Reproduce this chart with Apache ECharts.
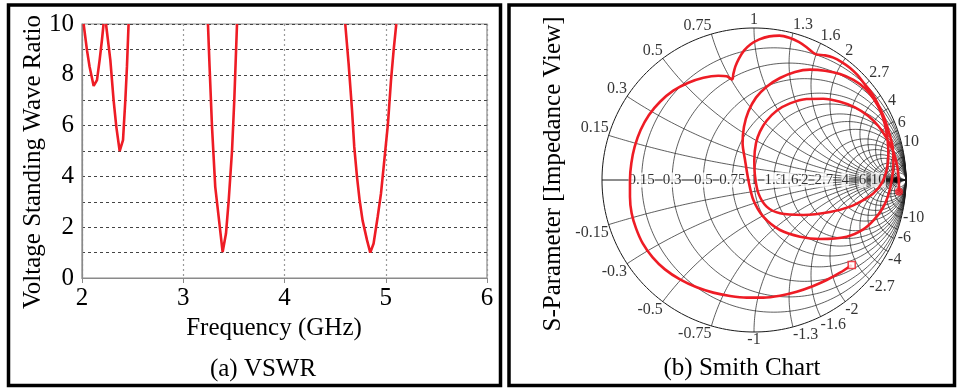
<!DOCTYPE html>
<html><head><meta charset="utf-8">
<script src="https://cdn.jsdelivr.net/npm/echarts@6/dist/echarts.min.js"></script>
<style>html,body{margin:0;padding:0;background:#fff}#c{width:957px;height:389px}</style>
</head><body><div id="c"></div>
<script>
// ---- VSWR data (frequency in GHz, VSWR) ; null separates visible segments ----
const vswrFreq = [2.016, 2.049, 2.075, 2.115, 2.148, 2.174, 2.197, 2.213, null,
  2.237, 2.28, 2.312, 2.339, 2.372, 2.405, 2.428, 2.444, 2.46, null,
  3.244, 3.26, 3.284, 3.316, 3.35, 3.389, 3.422, 3.449, 3.482, 3.504, 3.531, null,
  4.60, 4.633, 4.667, 4.689, 4.716, 4.742, 4.771, 4.815, 4.847, 4.88, 4.92, 4.953, 4.986, 5.022, 5.052, 5.078, 5.104];
const vswrValue = [10, 8.97, 8.32, 7.56, 7.79, 8.58, 9.37, 10, null,
  10, 8.58, 7.0, 5.95, 5.0, 5.43, 7.0, 8.32, 10, null,
  10, 8.32, 5.96, 3.59, 2.4, 1.02, 1.75, 3.06, 5.03, 7.0, 10, null,
  10, 8.45, 6.61, 5.16, 3.98, 3.06, 2.27, 1.49, 1.0, 1.36, 2.4, 3.33, 4.64, 6.09, 7.79, 8.97, 10];
const yTickLabels = [0, 2, 4, 6, 8, 10];
const xTickLabels = [2, 3, 4, 5, 6];

// ---- Smith chart grid values ----
const smithR = [0.15, 0.3, 0.5, 0.75, 1, 1.3, 1.6, 2, 2.7, 4, 6, 10];
const smithRExtra = [3.3, 5, 8, 13, 20];
const smithX = [0.15, 0.3, 0.5, 0.75, 1, 1.3, 1.6, 2, 2.7, 4, 6, 10];
const smithXExtra = [3.3, 5, 8, 13, 20];

// ---- S11 trajectory (reflection coefficient, real / imaginary) ----
const s11Re = [0.643,0.566,0.478,0.390,0.281,0.171,0.061,-0.048,-0.158,-0.268,-0.377,-0.487,-0.586,-0.667,-0.732,-0.776,-0.805,-0.816,-0.816,-0.807,-0.785,-0.746,-0.691,-0.618,-0.531,-0.432,-0.333,-0.235,-0.180,-0.143,-0.136,-0.123,-0.101,-0.066,-0.022,0.035,0.101,0.167,0.232,0.294,0.346,0.386,0.412,0.467,0.522,0.577,0.632,0.680,0.724,0.763,0.796,0.829,0.862,0.890,0.912,
  0.917,0.906,0.884,0.846,0.789,0.719,0.610,0.434,0.303,0.171,0.061,-0.004,-0.037,-0.059,-0.075,-0.066,-0.037,0.013,0.083,0.171,0.270,0.368,0.467,0.566,0.654,0.730,0.789,0.833,0.862,0.879,0.884,
  0.873,0.840,0.785,0.719,0.632,0.500,0.325,0.171,0.083,0.029,0.007,0.002,0.013,0.039,0.083,0.149,0.237,0.346,0.456,0.566,0.664,0.752,0.818,0.873,0.917,0.943,0.952,0.954];
const s11Im = [-0.559,-0.610,-0.658,-0.697,-0.735,-0.761,-0.774,-0.774,-0.763,-0.741,-0.706,-0.654,-0.588,-0.509,-0.417,-0.318,-0.219,-0.110,0,0.110,0.219,0.329,0.428,0.515,0.588,0.640,0.673,0.686,0.682,0.662,0.697,0.746,0.796,0.851,0.893,0.925,0.945,0.950,0.936,0.908,0.873,0.840,0.825,0.820,0.805,0.776,0.737,0.691,0.636,0.588,0.537,0.471,0.395,0.307,0.219,
  0.110,0,-0.099,-0.186,-0.263,-0.325,-0.373,-0.388,-0.373,-0.329,-0.241,-0.132,0,0.132,0.241,0.351,0.450,0.542,0.614,0.671,0.711,0.726,0.719,0.697,0.658,0.603,0.531,0.450,0.362,0.263,0.164,
  0.066,-0.022,-0.088,-0.132,-0.175,-0.211,-0.230,-0.219,-0.175,-0.088,0.022,0.132,0.241,0.318,0.390,0.456,0.504,0.533,0.535,0.515,0.478,0.421,0.355,0.274,0.186,0.088,0,-0.077];

const FONT = 'Liberation Serif';
const RED = '#ee1c25';
const series = [];

// VSWR segments
let seg = [];
const segs = [];
vswrFreq.forEach((f, i) => {
  if (f === null) { segs.push(seg); seg = []; }
  else seg.push([f, vswrValue[i]]);
});
segs.push(seg);
segs.forEach(s => series.push({
  type: 'line', xAxisIndex: 0, yAxisIndex: 0, data: s, symbol: 'none', smooth: false,
  lineStyle: { color: RED, width: 2.6 }, z: 5, silent: true
}));

// Smith grid helpers
function rCircle(r) {
  const cx = r / (1 + r), R = 1 / (1 + r), pts = [];
  for (let k = 0; k <= 240; k++) { const a = 2 * Math.PI * k / 240; pts.push([cx + R * Math.cos(a), R * Math.sin(a)]); }
  return pts;
}
function xArc(x) {
  const pts = [], N = 200;
  for (let k = 0; k < N; k++) {
    const t = Math.tan(k / N * Math.PI / 2);
    const d = (t + 1) * (t + 1) + x * x;
    pts.push([(t * t + x * x - 1) / d, 2 * x / d]);
  }
  pts.push([1, 0]);
  return pts;
}
const gridStyle = { color: '#1a1a1a', width: 0.7 };
function addGrid(pts, w) {
  series.push({ type: 'line', xAxisIndex: 1, yAxisIndex: 1, data: pts, symbol: 'none',
    lineStyle: Object.assign({}, gridStyle, w ? { width: w } : {}), z: 1, silent: true, clip: false });
}
addGrid(rCircle(0), 1.0);
smithR.concat(smithRExtra).forEach(r => addGrid(rCircle(r)));
smithX.concat(smithXExtra).forEach(x => { addGrid(xArc(x)); addGrid(xArc(-x)); });
addGrid([[-1, 0], [1.015, 0]], 1.0);

// Reactance labels around rim
const rimLabels = [];
smithX.forEach(x => {
  [x, -x].forEach(v => {
    const d = 1 + v * v, gx = (v * v - 1) / d, gy = 2 * v / d;
    const align = Math.abs(gx) < 0.05 ? 'center' : (gx > 0 ? 'left' : 'right');
    rimLabels.push({ value: [gx, gy], label: { formatter: String(v), align: align, verticalAlign: v > 0 ? 'bottom' : 'top' } });
  });
});
series.push({ type: 'scatter', xAxisIndex: 1, yAxisIndex: 1, data: rimLabels, symbolSize: 0, z: 3, silent: true,
  label: { show: true, position: [0, 0], fontFamily: FONT, fontSize: 16, color: '#000' } });

// Resistance labels on the real axis
series.push({ type: 'scatter', xAxisIndex: 1, yAxisIndex: 1, symbolSize: 0, z: 3, silent: true,
  data: smithR.map(r => ({ value: [(r - 1) / (r + 1), 0], label: { formatter: String(r) } })),
  label: { show: true, position: [0, 0], align: 'center', verticalAlign: 'middle', fontFamily: FONT, fontSize: 15,
    color: '#000', backgroundColor: '#fff', padding: [0, 0] } });
series.push({ type: 'scatter', xAxisIndex: 1, yAxisIndex: 1, symbolSize: 6, z: 4, silent: true,
  data: [[0.94, 0]], itemStyle: { color: '#000' } });

// S11 curve
series.push({ type: 'line', xAxisIndex: 1, yAxisIndex: 1, symbol: 'none', smooth: 0.3, clip: false, silent: true,
  data: s11Re.map((v, i) => [v, s11Im[i]]), lineStyle: { color: RED, width: 2.6 }, z: 6 });
series.push({ type: 'scatter', xAxisIndex: 1, yAxisIndex: 1, z: 7, silent: true, symbol: 'rect', symbolSize: 7,
  data: [[s11Re[0], s11Im[0]]], itemStyle: { color: '#fff', borderColor: RED, borderWidth: 1.6 } });
series.push({ type: 'scatter', xAxisIndex: 1, yAxisIndex: 1, z: 7, silent: true, symbol: 'circle', symbolSize: 8,
  data: [[s11Re[s11Re.length - 1], s11Im[s11Im.length - 1]]], itemStyle: { color: RED } });

const chart = echarts.init(document.getElementById('c'), null, { renderer: 'canvas' });
const tstyle = (text) => ({ text: text, fontFamily: FONT, fontSize: 25, fill: '#000', align: 'center', verticalAlign: 'middle' });
chart.setOption({
  animation: false,
  backgroundColor: '#fff',
  textStyle: { fontFamily: FONT },
  grid: [
    { left: 82, top: 24, width: 405, height: 254, show: true, borderColor: '#8a8a8a', borderWidth: 1.2, backgroundColor: 'transparent' },
    { left: 602, top: 28, width: 304, height: 304 }
  ],
  xAxis: [
    { gridIndex: 0, type: 'value', min: 2, max: 6, interval: 1,
      axisLine: { lineStyle: { color: '#8a8a8a', width: 1.2 } },
      axisTick: { show: true, length: 5, lineStyle: { color: '#8a8a8a' } },
      axisLabel: { fontFamily: FONT, fontSize: 25, color: '#000', margin: 8,
        formatter: v => xTickLabels.includes(v) ? String(v) : '' },
      splitLine: { show: true, lineStyle: { color: '#999', type: [2, 3], width: 1.2 } } },
    { gridIndex: 1, type: 'value', min: -1, max: 1, show: false, splitLine: { show: false } }
  ],
  yAxis: [
    { gridIndex: 0, type: 'value', min: 0, max: 10, interval: 1,
      axisLine: { show: true, lineStyle: { color: '#8a8a8a', width: 1.2 } },
      axisTick: { show: false },
      axisLabel: { fontFamily: FONT, fontSize: 25, color: '#000', margin: 8,
        formatter: v => yTickLabels.includes(v) ? String(v) : '' },
      splitLine: { show: true, lineStyle: { color: '#444', type: [3, 3], width: 1 } } },
    { gridIndex: 1, type: 'value', min: -1, max: 1, show: false, splitLine: { show: false } }
  ],
  series: series,
  graphic: [
    { type: 'rect', shape: { x: 8.5, y: 5, width: 492, height: 380.5 }, style: { fill: null, stroke: '#000', lineWidth: 3.5 }, silent: true },
    { type: 'rect', shape: { x: 509, y: 5, width: 445.5, height: 380.5 }, style: { fill: null, stroke: '#000', lineWidth: 3.5 }, silent: true },
    { type: 'text', x: 33, y: 162, rotation: Math.PI / 2, style: tstyle('Voltage Standing Wave Ratio') },
    { type: 'text', x: 274, y: 328, style: tstyle('Frequency (GHz)') },
    { type: 'text', x: 263, y: 369, style: tstyle('(a) VSWR') },
    { type: 'text', x: 553, y: 174, rotation: Math.PI / 2, style: tstyle('S-Parameter [Impedance View]') },
    { type: 'text', x: 742, y: 368, style: tstyle('(b) Smith Chart') }
  ]
});
</script></body></html>
